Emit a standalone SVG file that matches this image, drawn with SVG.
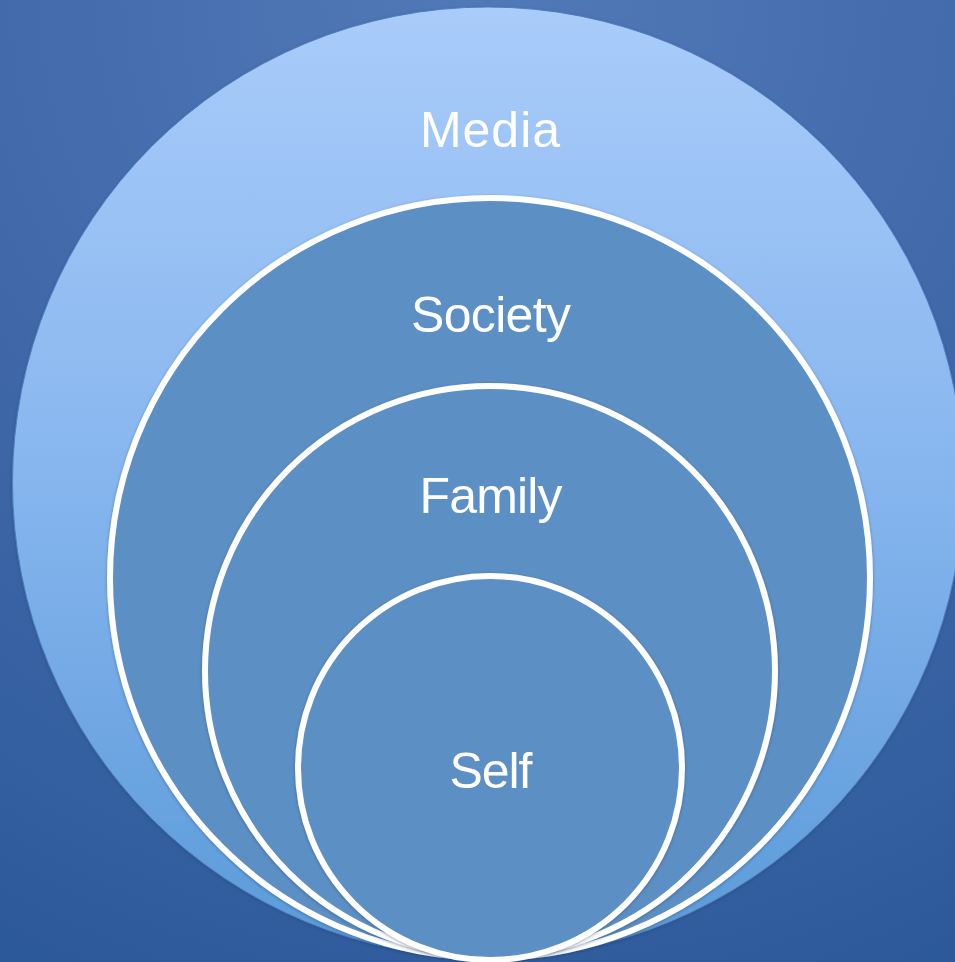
<svg xmlns="http://www.w3.org/2000/svg" width="955" height="962" viewBox="0 0 955 962">
<defs>
<radialGradient id="bg" cx="490" cy="0" r="1100" gradientUnits="userSpaceOnUse">
<stop offset="0" stop-color="#5279b7"/>
<stop offset="0.5" stop-color="#4169aa"/>
<stop offset="1" stop-color="#2b5899"/>
</radialGradient>
<linearGradient id="outer" x1="0" y1="7" x2="0" y2="958" gradientUnits="userSpaceOnUse">
<stop offset="0" stop-color="#a9ccfa"/>
<stop offset="0.5" stop-color="#86b5ee"/>
<stop offset="1" stop-color="#5a9ad9"/>
</linearGradient>
<filter id="sh" x="-10%" y="-10%" width="120%" height="120%">
<feDropShadow dx="0" dy="1" stdDeviation="1.5" flood-color="#1d3f70" flood-opacity="0.5"/>
</filter>
</defs>
<style>
.ring{fill:#5b8fc4;stroke:#ffffff;stroke-width:6}
.lbl{font-family:"Liberation Sans",Arial,sans-serif;font-size:50px;fill:#ffffff;text-anchor:middle}
</style>
<rect width="955" height="962" fill="url(#bg)"/>
<g id="media">
<circle cx="488" cy="482.5" r="475.5" fill="url(#outer)" stroke="#4f7fbf" stroke-width="1" filter="url(#sh)"/>
<text class="lbl" x="490" y="147" textLength="140">Media</text>
</g>
<g id="society">
<circle class="ring" cx="490" cy="578" r="380" filter="url(#sh)"/>
<text class="lbl" x="491" y="332" textLength="160">Society</text>
</g>
<g id="family">
<circle class="ring" cx="490" cy="671" r="285" filter="url(#sh)"/>
<text class="lbl" x="491" y="513" textLength="143">Family</text>
</g>
<g id="self">
<circle class="ring" cx="490" cy="768" r="192" filter="url(#sh)"/>
<text class="lbl" x="491" y="788" textLength="83">Self</text>
</g>
<g id="connectors"/>
</svg>
